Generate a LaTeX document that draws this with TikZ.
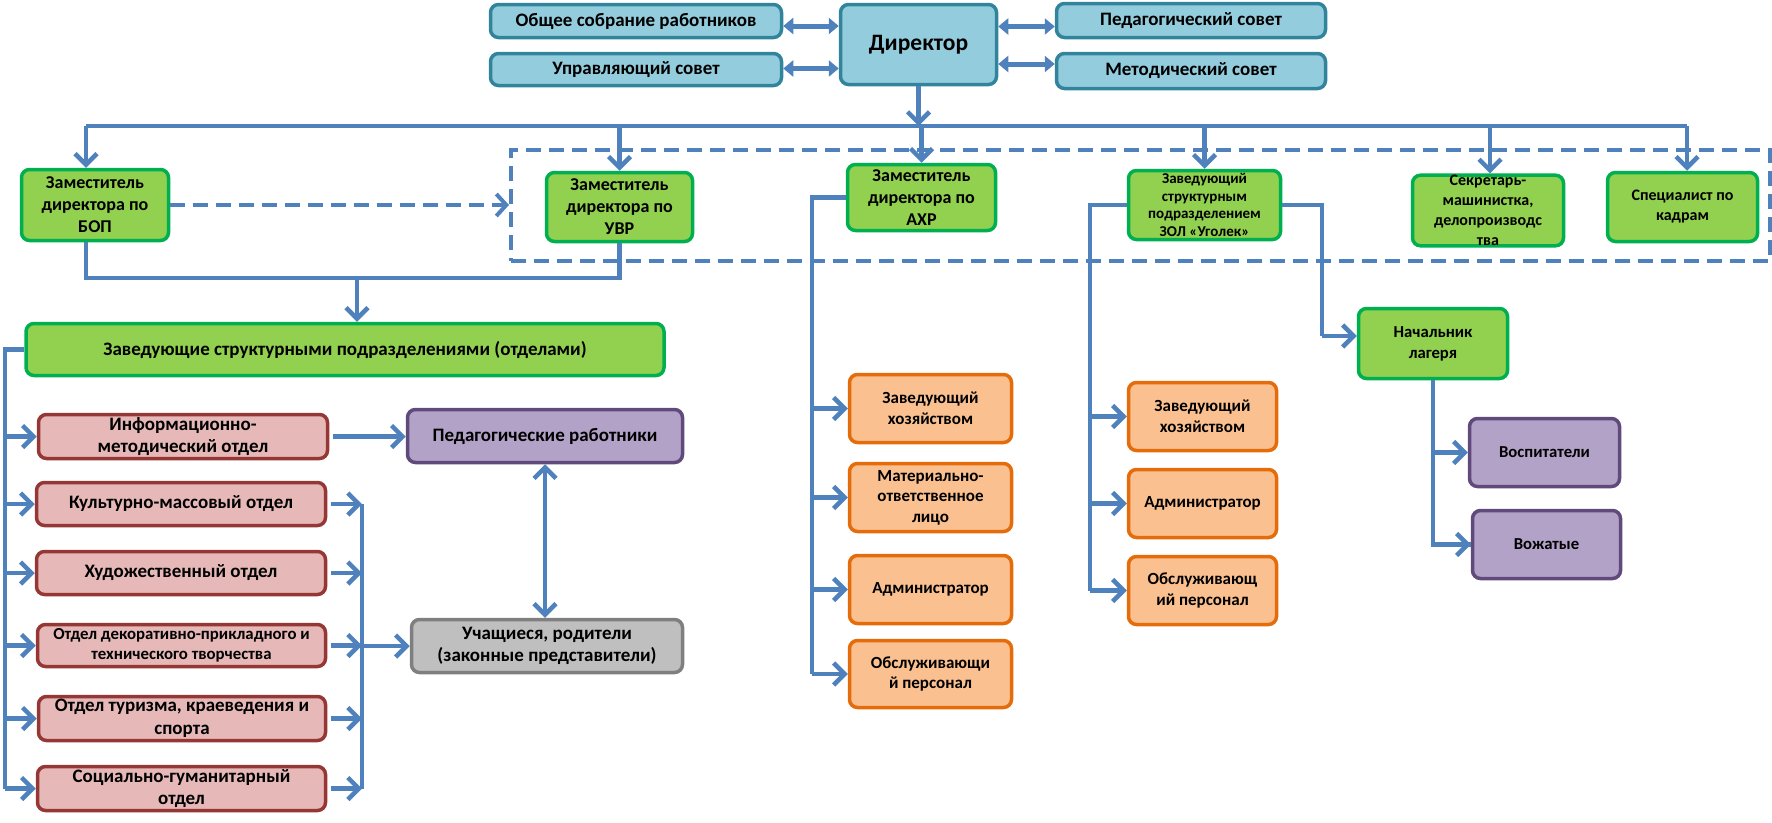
\documentclass[tikz,border=0pt]{standalone}
\usepackage{fontspec}
\setmainfont{Carlito}
\usetikzlibrary{arrows.meta}
\definecolor{arr}{HTML}{4F81BD}
\definecolor{topfill}{HTML}{93CDDD}
\definecolor{topdraw}{HTML}{31849B}
\definecolor{gfill}{HTML}{92D050}
\definecolor{gdraw}{HTML}{00B050}
\definecolor{pfill}{HTML}{E6B9B8}
\definecolor{pdraw}{HTML}{953735}
\definecolor{vfill}{HTML}{B3A2C7}
\definecolor{vdraw}{HTML}{604A7B}
\definecolor{sfill}{HTML}{BFBFBF}
\definecolor{sdraw}{HTML}{7F7F7F}
\definecolor{ofill}{HTML}{FAC090}
\definecolor{odraw}{HTML}{E46C0A}
\begin{document}
\begin{tikzpicture}[x=1pt,y=-1pt,
  box/.style={rounded corners=8pt, line width=3.5pt, inner sep=0pt, align=center,
    font=\bfseries\fontsize{19}{22.5}\selectfont},
  topbox/.style={box, fill=topfill, draw=topdraw},
  gbox/.style={box, fill=gfill, draw=gdraw},
  g3/.style={gbox, font=\bfseries\fontsize{18}{22}\selectfont},
  pbox/.style={box, fill=pfill, draw=pdraw},
  vbox/.style={box, fill=vfill, draw=vdraw},
  sbox/.style={box, fill=sfill, draw=sdraw},
  obox/.style={box, fill=ofill, draw=odraw, font=\bfseries\fontsize{17}{20.5}\selectfont},
  ln/.style={draw=arr, line width=4.5pt},
  arrow/.style={ln, -{Straight Barb[length=11pt,width=22pt]}},
  darrow/.style={ln, {Straight Barb[length=11pt,width=22pt]}-{Straight Barb[length=11pt,width=22pt]}},
  tarrow/.style={draw=arr, line width=5pt, {Triangle[length=10pt,width=16pt]}-{Triangle[length=10pt,width=16pt]}},
  dashbox/.style={draw=arr, line width=4pt, dash pattern=on 15pt off 8pt, inner sep=0pt}
]
\useasboundingbox (0,0) rectangle (1772,822);

% dashed group
\node[dashbox, minimum width=1259pt, minimum height=111pt] (dr) at (1140.5,205.5) {};

% top row
\node[topbox, minimum width=291pt, minimum height=33pt] (gen) at (636,21) {Общее собрание работников};
\node[topbox, minimum width=291pt, minimum height=32pt] (upr) at (636,69.5) {Управляющий совет};
\node[topbox, minimum width=156pt, minimum height=80pt, font=\bfseries\fontsize{23.5}{27}\selectfont] (dir) at (918.5,44.5) {Директор};
\node[topbox, minimum width=269pt, minimum height=34pt] (ped) at (1191,20.5) {Педагогический совет};
\node[topbox, minimum width=269pt, minimum height=35pt] (met) at (1191,71) {Методический совет};

% green row
\node[g3, minimum width=147pt, minimum height=71pt] (bop) at (95,205) {Заместитель\\директора по\\БОП};
\node[g3, minimum width=146pt, minimum height=69pt] (uvr) at (619.5,207) {Заместитель\\директора по\\УВР};
\node[g3, minimum width=148pt, minimum height=66pt] (ahr) at (921.5,197.5) {Заместитель\\директора по\\АХР};
\node[gbox, minimum width=152pt, minimum height=69pt, font=\bfseries\fontsize{15}{17.5}\selectfont] (zol) at (1204.5,205) {Заведующий\\структурным\\подразделением\\ЗОЛ «Уголек»};
\node[gbox, minimum width=151pt, minimum height=70pt, font=\bfseries\fontsize{16}{20}\selectfont] (sek) at (1488,210.5) {Секретарь-\\машинистка,\\делопроизводс\\тва};
\node[gbox, minimum width=150pt, minimum height=69pt, font=\bfseries\fontsize{16}{20}\selectfont] (spec) at (1682.5,207) {Специалист по\\кадрам};

% departments
\node[gbox, minimum width=638pt, minimum height=52pt] (zav) at (345,349.5) {Заведующие структурными подразделениями (отделами)};
\node[pbox, minimum width=289pt, minimum height=44pt] (inf) at (183,436.5) {Информационно-\\методический отдел};
\node[pbox, minimum width=289pt, minimum height=43pt] (kul) at (181,504) {Культурно-массовый отдел};
\node[pbox, minimum width=289pt, minimum height=43pt] (hud) at (181,573) {Художественный отдел};
\node[pbox, minimum width=288pt, minimum height=42pt, font=\bfseries\fontsize{16.8}{20}\selectfont] (dek) at (181.5,645.5) {Отдел декоративно-прикладного и\\технического творчества};
\node[pbox, minimum width=287pt, minimum height=44pt] (tur) at (182,718.5) {Отдел туризма, краеведения и\\спорта};
\node[pbox, minimum width=288pt, minimum height=44pt] (soc) at (181.5,788.5) {Социально-гуманитарный\\отдел};
\node[vbox, minimum width=275pt, minimum height=53pt] (pedr) at (545,436) {Педагогические работники};
\node[sbox, minimum width=271pt, minimum height=53pt] (uch) at (547,646) {Учащиеся, родители\\(законные представители)};

% AHR column
\node[obox, minimum width=162pt, minimum height=68pt] (zh1) at (930.5,408.5) {Заведующий\\хозяйством};
\node[obox, minimum width=162pt, minimum height=68pt] (mat) at (930.5,497.5) {Материально-\\ответственное\\лицо};
\node[obox, minimum width=162pt, minimum height=68pt] (adm1) at (930.5,589.5) {Администратор};
\node[obox, minimum width=162pt, minimum height=67pt] (obs1) at (930.5,674) {Обслуживающи\\й персонал};

% ZOL column
\node[obox, minimum width=148pt, minimum height=68pt] (zh2) at (1202.5,416.5) {Заведующий\\хозяйством};
\node[obox, minimum width=148pt, minimum height=68pt] (adm2) at (1202.5,503.5) {Администратор};
\node[obox, minimum width=148pt, minimum height=68pt] (obs2) at (1202.5,590.5) {Обслуживающ\\ий персонал};
\node[gbox, minimum width=149pt, minimum height=70pt, font=\bfseries\fontsize{16.7}{21}\selectfont] (nach) at (1433,343.5) {Начальник\\лагеря};
\node[vbox, minimum width=150pt, minimum height=68pt, font=\bfseries\fontsize{16.7}{20}\selectfont] (vosp) at (1544.5,452.5) {Воспитатели};
\node[vbox, minimum width=148pt, minimum height=68pt, font=\bfseries\fontsize{16.7}{20}\selectfont] (vozh) at (1546.5,544.5) {Вожатые};

% top connectors
\draw[tarrow] ([yshift=-5pt]gen.east) -- ([yshift=-5pt]gen.east -| dir.west);
\draw[tarrow] ([yshift=1pt]upr.east) -- ([yshift=1pt]upr.east -| dir.west);
\draw[tarrow] ([yshift=-6pt]ped.west -| dir.east) -- ([yshift=-6pt]ped.west);
\draw[tarrow] ([yshift=7pt]met.west -| dir.east) -- ([yshift=7pt]met.west);

% bus
\coordinate (bus) at (0,126);
\draw[arrow] (dir.south) -- (dir.south |- bus);
\draw[ln] ([xshift=-9pt]bop.north |- bus) -- ([xshift=4.5pt]spec.north |- bus);
\draw[arrow] ([xshift=-9pt]bop.north |- bus) -- ([xshift=-9pt]bop.north);
\draw[arrow] (uvr.north |- bus) -- (uvr.north);
\draw[arrow] (ahr.north |- bus) -- (ahr.north);
\draw[arrow] (zol.north |- bus) -- (zol.north);
\draw[arrow] ([xshift=2pt]sek.north |- bus) -- ([xshift=2pt]sek.north);
\draw[arrow] ([xshift=4.5pt]spec.north |- bus) -- ([xshift=4.5pt]spec.north);

% BOP dashed
\draw[arr, line width=4pt, dash pattern=on 15pt off 8pt, -{Straight Barb[length=10pt,width=22pt]}] (bop.east) -- (bop.east -| dr.west);

% BOP/UVR to zav
\coordinate (j) at (357,278);
\draw[ln] ([xshift=-9pt]bop.south) |- (j) -| (uvr.south);
\draw[arrow] (j) -- (j |- zav.north);

% left bus
\coordinate (lb) at (5,0);
\draw[ln] (zav.west) -| (lb |- soc.west);
\foreach \n in {inf,kul,hud,dek,tur,soc} {
  \draw[arrow] (lb |- \n.west) -- (\n.west);
}
% right collector
\coordinate (rc) at (362,0);
\draw[ln] (rc |- kul.east) -- (rc |- soc.east);
\foreach \n in {kul,hud,dek,tur,soc} {
  \draw[arrow] ([xshift=4pt]\n.east) -- (rc |- \n.east);
}
\draw[arrow] (rc |- uch.west) -- (uch.west);
\draw[arrow] ([xshift=4pt]inf.east) -- (inf.east -| pedr.west);
\draw[darrow] (pedr.south) -- (pedr.south |- uch.north);

% AHR column
\coordinate (ac) at (812,0);
\draw[ln] (ahr.west) -| (ac |- obs1.west);
\foreach \n in {zh1,mat,adm1,obs1} {
  \draw[arrow] (ac |- \n.west) -- (\n.west);
}

% ZOL column
\coordinate (zc) at (1090,0);
\draw[ln] (zol.west) -| (zc |- obs2.west);
\foreach \n in {zh2,adm2,obs2} {
  \draw[arrow] (zc |- \n.west) -- (\n.west);
}
\coordinate (zr) at (1322,0);
\draw[ln] (zol.east) -| ([yshift=7.5pt]zr |- nach.west);
\draw[arrow] ([yshift=7.5pt]zr |- nach.west) -- ([yshift=7.5pt]nach.west);

% camp
\draw[ln] (nach.south) |- (vozh.west);
\draw[arrow] (nach.south |- vosp.west) -- (vosp.west);
\draw[arrow] (nach.south |- vozh.west) -- (vozh.west);
\end{tikzpicture}
\end{document}
